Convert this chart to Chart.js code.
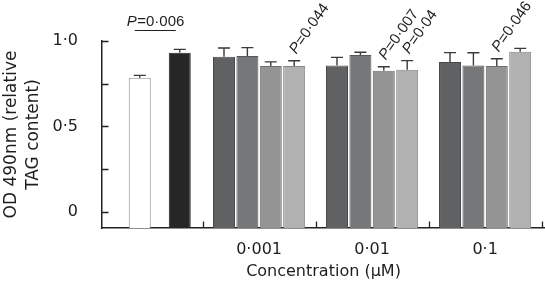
<!DOCTYPE html>
<html>
<head>
<meta charset="utf-8">
<script src="https://cdn.jsdelivr.net/npm/chart.js@4.4.0/dist/chart.umd.min.js"></script>
<style>
  html, body { margin: 0; padding: 0; background: #fff; }
  #wrap { width: 545px; height: 288px; }
</style>
</head>
<body>
<div id="wrap"><canvas id="tagChart" width="545" height="288"></canvas></div>
<script>
// control bars (left of the concentration groups)
const controlNames = ['Control', 'Induced'];
const controlValues = [0.785, 0.931];
const controlErrors = [0.014, 0.020];
const controlP = '0·006';

// concentration groups, 4 treatments each
const concentrations = ['0·001', '0·01', '0·1'];
const seriesNames = ['Treatment 1', 'Treatment 2', 'Treatment 3', 'Treatment 4'];
const seriesValues = [
    [0.908, 0.857, 0.877],
    [0.912, 0.918, 0.857],
    [0.853, 0.826, 0.853],
    [0.853, 0.832, 0.937]
];
const seriesErrors = [
    [0.051, 0.047, 0.055],
    [0.049, 0.016, 0.074],
    [0.025, 0.023, 0.043],
    [0.031, 0.053, 0.020]
];

// P values written above single bars (series index, group index)
const pSeries = [3, 2, 3, 2];
const pGroups = [0, 1, 1, 2];
const pTexts = ['0·044', '0·007', '0·04', '0·046'];

const yTicks = [0, 0.25, 0.5, 0.75, 1.0];
const yTickLabels = ['0', '', '0·5', '', '1·0'];

// layout
const Y_MIN = -0.095;
const X_MIN = -0.39, X_MAX = 3.53;
const BAR_STEP = 0.207;
const controlX = [-0.056, 0.298];
const seriesColors = ['#606163', '#767779', '#949494', '#b1b1b1'];
const seriesBorders = ['#48494b', '#58595b', '#6e6e6e', '#858585'];
const FONT = '"DejaVu Sans", sans-serif';
const P_FONT = '"Liberation Sans", Arial, sans-serif';

const datasets = [{
    label: controlNames.join(' / '),
    data: controlValues.map((v, i) => ({ x: controlX[i], y: v })),
    backgroundColor: ['#ffffff', '#262626'],
    borderColor: ['#8c8c8c', '#262626'],
    errors: controlErrors
}];
seriesValues.forEach((vals, s) => {
    datasets.push({
        label: seriesNames[s],
        data: vals.map((v, g) => ({ x: g + 1 + (s - 1.5) * BAR_STEP, y: v })),
        backgroundColor: seriesColors[s],
        borderColor: seriesBorders[s],
        errors: seriesErrors[s]
    });
});

const errorBars = {
    id: 'errorBars',
    afterDatasetsDraw(chart) {
        const ctx = chart.ctx;
        const y = chart.scales.y;
        ctx.save();
        ctx.strokeStyle = '#3a3a3a';
        ctx.lineWidth = 1.4;
        chart.data.datasets.forEach((ds, di) => {
            chart.getDatasetMeta(di).data.forEach((bar, i) => {
                const top = y.getPixelForValue(ds.data[i].y + ds.errors[i]);
                ctx.beginPath();
                ctx.moveTo(bar.x, bar.y);
                ctx.lineTo(bar.x, top);
                ctx.moveTo(bar.x - 6, top);
                ctx.lineTo(bar.x + 6, top);
                ctx.stroke();
            });
        });
        ctx.restore();
    }
};

// inward tick marks on both axes
const innerTicks = {
    id: 'innerTicks',
    afterDraw(chart) {
        const ctx = chart.ctx;
        const { left, bottom } = chart.chartArea;
        const x = chart.scales.x, y = chart.scales.y;
        ctx.save();
        ctx.strokeStyle = '#222';
        ctx.lineWidth = 1.3;
        ctx.beginPath();
        yTicks.forEach(v => {
            const py = Math.round(y.getPixelForValue(v)) + 0.5;
            ctx.moveTo(left, py);
            ctx.lineTo(left + 6.5, py);
        });
        for (let i = 0; i <= concentrations.length; i++) {
            const px = Math.round(x.getPixelForValue(i + 0.5)) + 0.5;
            ctx.moveTo(px, bottom);
            ctx.lineTo(px, bottom - 6.5);
        }
        ctx.stroke();
        ctx.restore();
    }
};

function drawP(ctx, text, x, y, align, size) {
    ctx.font = 'italic ' + size + 'px ' + P_FONT;
    const wP = ctx.measureText('P').width;
    ctx.font = size + 'px ' + P_FONT;
    const rest = '=' + text;
    const wR = ctx.measureText(rest).width;
    let x0 = align === 'center' ? x - (wP + wR) / 2 : x;
    ctx.textAlign = 'left';
    ctx.textBaseline = 'alphabetic';
    ctx.font = 'italic ' + size + 'px ' + P_FONT;
    ctx.fillText('P', x0, y);
    ctx.font = size + 'px ' + P_FONT;
    ctx.fillText(rest, x0 + wP + 0.5, y);
}

const pValues = {
    id: 'pValues',
    afterDraw(chart) {
        const ctx = chart.ctx;
        const y = chart.scales.y;
        ctx.save();
        ctx.fillStyle = '#1e1e1e';
        ctx.strokeStyle = '#1e1e1e';
        // control comparison
        const ctrl = chart.getDatasetMeta(0).data;
        const lineY = chart.chartArea.top - 10.5;
        const x0 = ctrl[0].x - 5, x1 = ctrl[1].x - 4;
        ctx.lineWidth = 1;
        ctx.beginPath();
        ctx.moveTo(x0, lineY);
        ctx.lineTo(x1, lineY);
        ctx.stroke();
        drawP(ctx, controlP, (x0 + x1) / 2, lineY - 4.5, 'center', 15);
        // rotated labels above bars
        pTexts.forEach((t, k) => {
            const s = pSeries[k], g = pGroups[k];
            const bar = chart.getDatasetMeta(s + 1).data[g];
            const top = y.getPixelForValue(seriesValues[s][g] + seriesErrors[s][g]);
            ctx.save();
            ctx.translate(bar.x + 2, top - 6);
            ctx.rotate(-55 * Math.PI / 180);
            drawP(ctx, t, 0, 0, 'left', 15);
            ctx.restore();
        });
        ctx.restore();
    }
};

new Chart(document.getElementById('tagChart'), {
    type: 'bar',
    data: { datasets: datasets },
    options: {
        responsive: false,
        animation: false,
        devicePixelRatio: 1,
        layout: { padding: { top: 41, right: 0, bottom: 0, left: 0 } },
        datasets: {
            bar: {
                base: Y_MIN,
                grouped: false,
                borderWidth: 1,
                barPercentage: 0.94,
                categoryPercentage: 1
            }
        },
        plugins: {
            legend: { display: false },
            tooltip: { enabled: false }
        },
        scales: {
            x: {
                type: 'linear',
                min: X_MIN,
                max: X_MAX,
                offset: false,
                grid: { display: false, offset: false },
                border: { display: true, color: '#222', width: 1.5 },
                afterBuildTicks: scale => {
                    scale.ticks = concentrations.map((c, i) => ({ value: i + 1 }));
                },
                afterFit: scale => { scale.height = 60; },
                ticks: {
                    padding: 4,
                    color: '#1e1e1e',
                    font: { family: FONT, size: 16 },
                    autoSkip: false,
                    maxRotation: 0,
                    callback: (v, i) => concentrations[i]
                },
                title: {
                    display: true,
                    text: 'Concentration (μM)',
                    color: '#1e1e1e',
                    font: { family: FONT, size: 16 },
                    padding: { top: 0, bottom: 7 }
                }
            },
            y: {
                min: Y_MIN,
                max: 1.0,
                grid: { display: false },
                border: { display: true, color: '#222', width: 1.5 },
                afterBuildTicks: scale => {
                    scale.ticks = yTicks.map(v => ({ value: v }));
                },
                afterFit: scale => { scale.width = 102; },
                ticks: {
                    padding: 16,
                    color: '#1e1e1e',
                    font: { family: FONT, size: 16 },
                    autoSkip: false,
                    callback: (v, i) => yTickLabels[i]
                },
                title: {
                    display: true,
                    text: ['OD 490nm (relative', 'TAG content)'],
                    color: '#1e1e1e',
                    font: { family: FONT, size: 17, lineHeight: 1.32 },
                    padding: { top: 0, bottom: 0 }
                }
            }
        }
    },
    plugins: [errorBars, innerTicks, pValues]
});
</script>
</body>
</html>
